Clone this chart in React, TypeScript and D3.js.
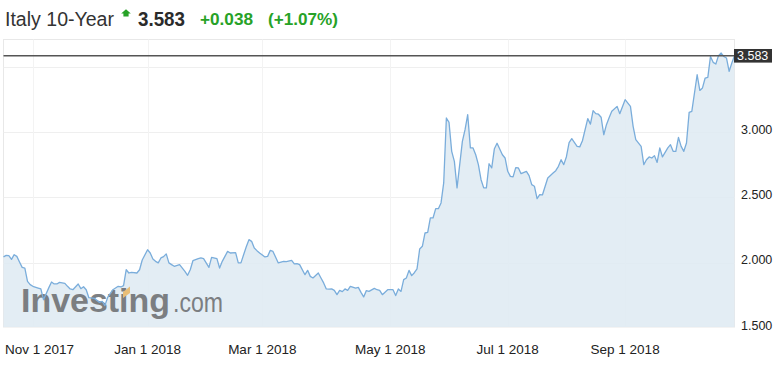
import React from "react";
import * as d3 from "d3";

// Trading-session index (x) and yield values
const sessions = [
  0, 1, 2, 3, 4, 5, 6, 7, 8, 9, 10, 11, 13, 14, 15, 17, 18, 19, 20, 21, 23, 24, 25, 26, 28, 29, 30, 31, 32, 34, 36, 37, 38, 39, 41, 43, 44, 45, 46, 47, 48, 50, 51, 52, 54,
  55, 56, 57, 58, 59, 60, 61, 62, 63, 64, 66, 68, 69, 70, 71, 73, 74, 75, 77, 78, 80, 81, 82, 83, 84, 85, 87, 88, 89, 90, 91, 92, 93, 94, 95, 96, 98, 99, 100, 101, 103, 105, 106, 108, 109, 110, 111,
  113, 114, 115, 116, 118, 119, 120, 121, 122, 123, 124, 125, 126, 127, 128, 129, 130, 132, 133, 134, 135, 136, 137, 139, 140, 141, 142, 144, 146, 147, 148, 149, 150, 151, 152, 153, 154, 155, 156, 157, 158, 159, 160, 161, 162, 163, 164, 165, 166, 167, 168,
  169, 170, 172, 173, 174, 175, 176, 177, 178, 179, 180, 181, 182, 183, 184, 185, 187, 188, 189, 190, 191, 192, 193, 194, 196, 197, 198, 199, 200, 201, 202, 204, 206, 207, 208, 209, 210, 211, 212, 213, 215, 216, 217, 219, 220, 221, 222, 223, 224,
  225, 226, 227, 228, 230, 231, 233, 235, 236, 237, 239, 240, 241, 242, 243, 244, 245, 246, 247, 249, 250, 251, 252, 253, 254, 255, 256, 257, 258, 260, 261, 262, 263, 264, 265, 266, 267, 268, 269, 270, 271, 272, 273, 274,
];

const yields = [
  2.044, 2.056, 2.054, 2.025, 2.061, 2.048, 2.005, 1.964, 1.959, 1.857, 1.832, 1.819, 1.806, 1.799, 1.717, 1.809, 1.852, 1.837, 1.837, 1.849, 1.842, 1.819, 1.799, 1.793, 1.837, 1.801, 1.816, 1.793, 1.732, 1.727, 1.696, 1.704, 1.671, 1.732, 1.793, 1.819, 1.814, 1.824, 1.946, 1.921, 1.926, 1.921, 1.946, 2.02, 2.099,
  2.074, 2.028, 2.01, 1.998, 2.036, 2.046, 2.067, 1.998, 1.985, 1.972, 1.985, 1.933, 1.903, 1.946, 2.015, 2.031, 2.036, 2.031, 1.964, 2.041, 2.031, 1.959, 2.01, 2.048, 2.086, 2.074, 2.077, 1.998, 1.998, 2.061, 2.122, 2.176, 2.163, 2.112, 2.092, 2.074, 2.044, 2.048, 2.094, 2.086, 1.998, 2.01, 2.008, 2.018, 1.99, 1.992, 1.985,
  1.908, 1.941, 1.895, 1.883, 1.921, 1.883, 1.845, 1.799, 1.797, 1.799, 1.788, 1.755, 1.788, 1.778, 1.799, 1.788, 1.819, 1.806, 1.811, 1.773, 1.738, 1.786, 1.78, 1.803, 1.793, 1.788, 1.755, 1.793, 1.793, 1.748, 1.799, 1.78, 1.87, 1.883, 1.941, 1.901, 1.923, 1.952, 2.105, 2.125, 2.227, 2.232, 2.342, 2.342, 2.413, 2.413, 2.457, 2.61, 3.107, 3.073, 2.852,
  2.775, 2.572, 2.928, 3.018, 3.132, 2.878, 2.878, 2.826, 2.75, 2.635, 2.572, 2.572, 2.757, 2.725, 2.872, 2.914, 2.826, 2.801, 2.699, 2.66, 2.656, 2.727, 2.725, 2.681, 2.699, 2.666, 2.597, 2.585, 2.49, 2.52, 2.518, 2.648, 2.686, 2.704, 2.737, 2.788, 2.75, 2.811, 2.918, 2.949, 2.89, 2.886, 2.933, 3.102, 3.06, 3.163, 3.14, 3.136, 3.113,
  2.979, 3.056, 3.109, 3.158, 3.196, 3.14, 3.247, 3.196, 3.043, 2.941, 2.89, 2.75, 2.788, 2.809, 2.801, 2.819, 2.767, 2.878, 2.809, 2.878, 2.903, 2.852, 2.852, 2.959, 2.89, 2.852, 2.916, 3.15, 3.158, 3.438, 3.318, 3.337, 3.413, 3.418, 3.578, 3.533, 3.52, 3.584, 3.604, 3.578, 3.566, 3.464, 3.528, 3.583,
];

const tickSessions = [11, 54, 97, 145, 189, 233];
const tickLabels = ["Nov 1 2017", "Jan 1 2018", "Mar 1 2018", "May 1 2018", "Jul 1 2018", "Sep 1 2018"];
const yTicks = [1.5, 2.0, 2.5, 3.0];
const yGrid = [2.0, 2.5, 3.0, 3.5];
const lastPrice = 3.583;
const titleText = "Italy 10-Year";
const priceText = "3.583";
const changeText = "+0.038";
const changePctText = "(+1.07%)";

const W = 783;
const H = 368;
const FONT = "'Liberation Sans', Arial, Helvetica, sans-serif";
const plot = { left: 3.5, right: 734.5, top: 39.5, bottom: 327 };

export default function App() {
  const x = d3
    .scaleLinear()
    .domain([0, d3.max(sessions) as number])
    .range([plot.left, plot.right]);
  const y = d3.scaleLinear().domain([1.5, 3.71]).range([328, 39.2]);

  const pts = sessions.map((s, i) => [s, yields[i]] as [number, number]);
  const area = d3
    .area<[number, number]>()
    .x((d) => x(d[0]))
    .y0(plot.bottom)
    .y1((d) => y(d[1]));
  const line = d3
    .line<[number, number]>()
    .x((d) => x(d[0]))
    .y((d) => y(d[1]));

  const green = "#27a227";
  const logoX = 21;
  const logoY = 312;
  const yLast = y(lastPrice);

  return (
    <div style={{ position: "absolute", left: 0, top: 0 }}>
      <svg width={W} height={H} style={{ display: "block", background: "#fff" }} fontFamily={FONT}>
        {/* Header */}
        <text x={5} y={25.5} fontSize={20} fill="#333" textLength={109} lengthAdjust="spacingAndGlyphs">
          {titleText}
        </text>
        <polygon
          points="126,9.3 130.8,13.4 128.6,13.4 128.6,16.6 123.4,16.6 123.4,13.4 121.2,13.4"
          fill={green}
        />
        <text x={138} y={25.5} fontSize={20} fontWeight="bold" fill="#2b2b2b" textLength={47} lengthAdjust="spacingAndGlyphs">
          {priceText}
        </text>
        <text x={200} y={25} fontSize={17} fontWeight="bold" fill={green} textLength={53} lengthAdjust="spacingAndGlyphs">
          {changeText}
        </text>
        <text x={268} y={25} fontSize={17} fontWeight="bold" fill={green} textLength={70} lengthAdjust="spacingAndGlyphs">
          {changePctText}
        </text>

        {/* Plot background and grid */}
        <rect
          x={plot.left}
          y={plot.top}
          width={plot.right - plot.left}
          height={plot.bottom - plot.top}
          fill="#fff"
          stroke="#e8e8e8"
          strokeWidth={1}
        />
        {yGrid.map((v) => (
          <line key={"gy" + v} x1={plot.left} x2={plot.right} y1={Math.round(y(v)) + 0.5} y2={Math.round(y(v)) + 0.5} stroke="#efefef" />
        ))}
        {tickSessions.map((t) => (
          <line key={"gx" + t} x1={Math.round(x(t)) + 0.5} x2={Math.round(x(t)) + 0.5} y1={plot.top} y2={plot.bottom} stroke="#f3f3f3" />
        ))}

        {/* Area */}
        <path d={area(pts) || ""} fill="rgb(223,234,242)" fillOpacity={0.87} />

        {/* Watermark */}
        <g opacity={0.9}>
          <text x={logoX} y={logoY} fontSize={34} fontWeight="bold" fill="#707275" textLength={149} lengthAdjust="spacingAndGlyphs">
            Investing
          </text>
          <polygon
            points={`${logoX + 102},${logoY - 20} ${logoX + 109},${logoY - 25.5} ${logoX + 109},${logoY - 19} ${logoX + 102},${logoY - 14}`}
            fill="#e9b96a"
          />
          <text x={173} y={logoY} fontSize={27} fill="#707275" textLength={50} lengthAdjust="spacingAndGlyphs">
            .com
          </text>
        </g>

        {/* Line */}
        <path d={line(pts) || ""} fill="none" stroke="#7aaddb" strokeWidth={1.3} strokeLinejoin="round" />

        {/* Last price line + label */}
        <line x1={plot.left} x2={plot.right} y1={yLast} y2={yLast} stroke="#555" strokeWidth={1.5} />
        <rect x={734} y={yLast - 6.8} width={38} height={13.6} fill="#333" />
        <text x={737} y={yLast + 4.3} fontSize={12.5} fill="#fff">
          {lastPrice.toFixed(3)}
        </text>

        {/* Y axis labels */}
        {yTicks.map((v) => (
          <text key={"yl" + v} x={741} y={y(v) + 1.8} fontSize={12.5} fill="#222">
            {v.toFixed(3)}
          </text>
        ))}

        {/* X axis labels */}
        {tickSessions.map((t, i) => {
          const cx = x(t);
          const clamp = cx - 36 < 5;
          return (
            <text
              key={"xl" + t}
              x={clamp ? 5 : cx}
              y={354}
              fontSize={13.5}
              fill="#222"
              textAnchor={clamp ? "start" : "middle"}
            >
              {tickLabels[i]}
            </text>
          );
        })}
      </svg>
    </div>
  );
}
